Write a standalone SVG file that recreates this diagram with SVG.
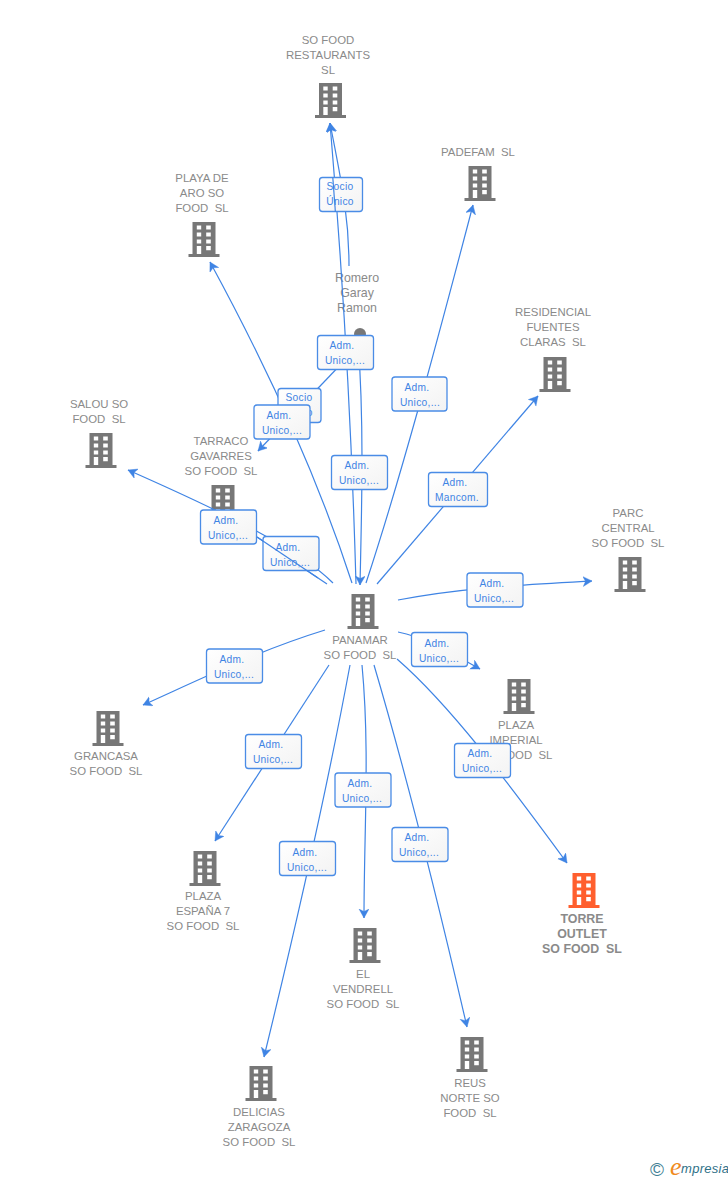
<svg xmlns="http://www.w3.org/2000/svg" width="728" height="1180" viewBox="0 0 728 1180">
<style>
text{font-family:"Liberation Sans",Arial,sans-serif;white-space:pre}
.n{font-size:11.4px;fill:#8a8a8a;text-anchor:middle}
.b{font-weight:bold;font-size:12.4px}
.r{font-size:12.4px}
.c path{fill:none;stroke:#3f84e4;stroke-width:1.2}
.l rect{fill:url(#g);stroke:#4a8ce6;stroke-width:1.3}
.l text{font-size:10.2px;letter-spacing:.3px;fill:#3f84e4;text-anchor:middle}
.i{fill:#777}
.o{fill:#ff5f2e}
</style>
<defs>
<linearGradient id="g" x1="0" y1="0" x2="1" y2="1"><stop offset="0" stop-color="#fff"/><stop offset="1" stop-color="#f3f3f3"/></linearGradient>
<marker id="a" markerUnits="userSpaceOnUse" markerWidth="12" markerHeight="12" refX="9" refY="5" orient="auto"><path d="M0 0L9 5L0 10L2.500 5Z" fill="#3f84e4" stroke="#3f84e4" stroke-width=".4"/></marker>
<symbol id="w" overflow="visible"><path fill-rule="evenodd" d="M-11.5 0H11.5V32H15.5V35H-15.5V32H-11.5ZM-7.2 3.5V7.5H-2.8V3.5ZM2.2 3.5V7.5H6.8V3.5ZM-7.2 10.5V14.5H-2.8V10.5ZM2.2 10.5V14.5H6.8V10.5ZM-7.2 17.500V21.500H-2.8V17.500ZM2.2 17.500V21.500H6.800V17.500ZM-7.2 24V32H-2.8V24ZM2.200 24V28.300H6.800V24Z"/></symbol>
</defs>
<g id="n1"><use href="#w" x="330.500" y="83" class="i"/><text class="n"><tspan x="328" y="44">SO FOOD</tspan><tspan x="328" y="59">RESTAURANTS</tspan><tspan x="328" y="74">SL</tspan></text></g>
<g id="n2"><use href="#w" x="480" y="166" class="i"/><text class="n" x="478" y="156">PADEFAM  SL</text></g>
<g id="n3"><use href="#w" x="204" y="222" class="i"/><text class="n"><tspan x="202" y="182">PLAYA DE</tspan><tspan x="202" y="197">ARO SO</tspan><tspan x="202" y="212">FOOD  SL</tspan></text></g>
<g id="n4"><use href="#w" x="555" y="357" class="i"/><text class="n"><tspan x="553" y="316">RESIDENCIAL</tspan><tspan x="553" y="331">FUENTES</tspan><tspan x="553" y="346">CLARAS  SL</tspan></text></g>
<g id="n5"><use href="#w" x="101" y="433" class="i"/><text class="n"><tspan x="99" y="408">SALOU SO</tspan><tspan x="99" y="423">FOOD  SL</tspan></text></g>
<g id="n6"><use href="#w" x="223" y="485" class="i"/><text class="n"><tspan x="221" y="445">TARRACO</tspan><tspan x="221" y="460">GAVARRES</tspan><tspan x="221" y="475">SO FOOD  SL</tspan></text></g>
<g id="n7"><use href="#w" x="630" y="557" class="i"/><text class="n"><tspan x="628" y="517">PARC</tspan><tspan x="628" y="532">CENTRAL</tspan><tspan x="628" y="547">SO FOOD  SL</tspan></text></g>
<g id="n8"><use href="#w" x="363" y="594" class="i"/><text class="n"><tspan x="360" y="644">PANAMAR</tspan><tspan x="360" y="659">SO FOOD  SL</tspan></text></g>
<g id="n9"><use href="#w" x="519" y="679" class="i"/><text class="n"><tspan x="516" y="729">PLAZA</tspan><tspan x="516" y="744">IMPERIAL</tspan><tspan x="516" y="759">SO FOOD  SL</tspan></text></g>
<g id="n10"><use href="#w" x="108" y="711" class="i"/><text class="n"><tspan x="106" y="760">GRANCASA</tspan><tspan x="106" y="775">SO FOOD  SL</tspan></text></g>
<g id="n11"><use href="#w" x="205" y="851" class="i"/><text class="n"><tspan x="203" y="900">PLAZA</tspan><tspan x="203" y="915">ESPAÑA 7</tspan><tspan x="203" y="930">SO FOOD  SL</tspan></text></g>
<g id="n12"><use href="#w" x="584" y="873" class="o"/><text class="n b"><tspan x="582" y="923">TORRE</tspan><tspan x="582" y="938">OUTLET</tspan><tspan x="582" y="953">SO FOOD  SL</tspan></text></g>
<g id="n13"><use href="#w" x="365" y="928" class="i"/><text class="n"><tspan x="363" y="978">EL</tspan><tspan x="363" y="993">VENDRELL</tspan><tspan x="363" y="1008">SO FOOD  SL</tspan></text></g>
<g id="n14"><use href="#w" x="472" y="1037" class="i"/><text class="n"><tspan x="470" y="1087">REUS</tspan><tspan x="470" y="1102">NORTE SO</tspan><tspan x="470" y="1117">FOOD  SL</tspan></text></g>
<g id="n15"><use href="#w" x="261" y="1066" class="i"/><text class="n"><tspan x="259" y="1116">DELICIAS</tspan><tspan x="259" y="1131">ZARAGOZA</tspan><tspan x="259" y="1146">SO FOOD  SL</tspan></text></g>
<g id="n16"><circle cx="360" cy="334" r="6" class="i"/><text class="n r"><tspan x="357" y="282">Romero</tspan><tspan x="357" y="297">Garay</tspan><tspan x="357" y="312">Ramon</tspan></text></g>
<g id="connectors" class="c">
<path d="M356 584C352 440 345 300 330 123" marker-end="url(#a)"/>
<path d="M349 266C349 215 341 180 330 123" marker-end="url(#a)"/>
<path d="M358 340C364 420 362 500 360 585" marker-end="url(#a)"/>
<path d="M345 360L258 451" marker-end="url(#a)"/>
<path d="M352 583C325 500 285 400 210 262" marker-end="url(#a)"/>
<path d="M366 583C400 480 435 350 473 205" marker-end="url(#a)"/>
<path d="M377 584L538 396" marker-end="url(#a)"/>
<path d="M398 600C460 588 520 585 592 581" marker-end="url(#a)"/>
<path d="M398 632C425 637 455 655 480 669" marker-end="url(#a)"/>
<path d="M397 659C450 705 510 785 567 863" marker-end="url(#a)"/>
<path d="M374 665C405 770 440 910 467 1027" marker-end="url(#a)"/>
<path d="M362 665C370 750 364 830 364 918" marker-end="url(#a)"/>
<path d="M350 665C325 800 295 930 264 1057" marker-end="url(#a)"/>
<path d="M329 665L215 841" marker-end="url(#a)"/>
<path d="M325 630C260 650 205 677 143 705" marker-end="url(#a)"/>
<path d="M333 583C300 550 230 515 128 470" marker-end="url(#a)"/>
<path d="M327 584L257 537"/>
</g>
<g id="labels" class="l">
<rect x="319.500" y="177.500" width="43" height="34" rx="3"/><text><tspan x="340" y="190">Socio</tspan><tspan x="340" y="205">Único</tspan></text>
<rect x="278" y="388.500" width="43" height="34" rx="3"/><text><tspan x="299" y="401">Socio</tspan><tspan x="299" y="416">Único</tspan></text>
<rect x="317.500" y="335.500" width="56" height="34" rx="3"/><text><tspan x="342" y="349">Adm.</tspan><tspan x="345" y="364">Unico,...</tspan></text>
<rect x="254" y="405" width="56" height="34" rx="3"/><text><tspan x="279" y="419">Adm.</tspan><tspan x="282" y="434">Unico,...</tspan></text>
<rect x="331.500" y="455.500" width="56" height="34" rx="3"/><text><tspan x="357" y="469">Adm.</tspan><tspan x="359" y="484">Unico,...</tspan></text>
<rect x="392" y="377" width="55" height="34" rx="3"/><text><tspan x="417" y="391">Adm.</tspan><tspan x="420" y="406">Unico,...</tspan></text>
<rect x="428.500" y="472.500" width="59" height="34" rx="3"/><text><tspan x="455" y="486">Adm.</tspan><tspan x="457" y="501">Mancom.</tspan></text>
<rect x="200.500" y="510" width="56" height="34" rx="3"/><text><tspan x="226" y="524">Adm.</tspan><tspan x="228" y="539">Unico,...</tspan></text>
<rect x="263" y="536.500" width="56" height="34" rx="3"/><text><tspan x="288" y="551">Adm.</tspan><tspan x="290" y="566">Unico,...</tspan></text>
<rect x="467" y="573" width="56" height="34" rx="3"/><text><tspan x="492" y="587">Adm.</tspan><tspan x="494" y="602">Unico,...</tspan></text>
<rect x="411.500" y="632.500" width="56" height="34" rx="3"/><text><tspan x="437" y="647">Adm.</tspan><tspan x="439" y="662">Unico,...</tspan></text>
<rect x="206.500" y="649" width="56" height="34" rx="3"/><text><tspan x="232" y="663">Adm.</tspan><tspan x="234" y="678">Unico,...</tspan></text>
<rect x="454.500" y="743.500" width="56" height="34" rx="3"/><text><tspan x="480" y="757">Adm.</tspan><tspan x="482" y="772">Unico,...</tspan></text>
<rect x="245.500" y="734.500" width="56" height="34" rx="3"/><text><tspan x="271" y="748">Adm.</tspan><tspan x="273" y="763">Unico,...</tspan></text>
<rect x="335" y="773" width="56" height="34" rx="3"/><text><tspan x="360" y="787">Adm.</tspan><tspan x="362" y="802">Unico,...</tspan></text>
<rect x="392" y="827.500" width="56" height="34" rx="3"/><text><tspan x="417" y="841">Adm.</tspan><tspan x="419" y="856">Unico,...</tspan></text>
<rect x="279.500" y="841.500" width="56" height="34" rx="3"/><text><tspan x="305" y="856">Adm.</tspan><tspan x="307" y="871">Unico,...</tspan></text>
</g>
<g id="connectors-over" class="c">
<path d="M332.800 177.500L335.400 212"/>
<path d="M257 537L318 578"/>
</g>
<g id="logo">
<text x="650" y="1176" font-size="19" fill="#3f7f95">©</text>
<text x="670" y="1175" font-size="26" font-style="italic" fill="#f08a1d" style="font-family:'Liberation Serif',serif">e</text>
<text x="681" y="1173" font-size="13" font-style="italic" letter-spacing=".3" fill="#2f7188">mpresia</text>
</g>
</svg>
